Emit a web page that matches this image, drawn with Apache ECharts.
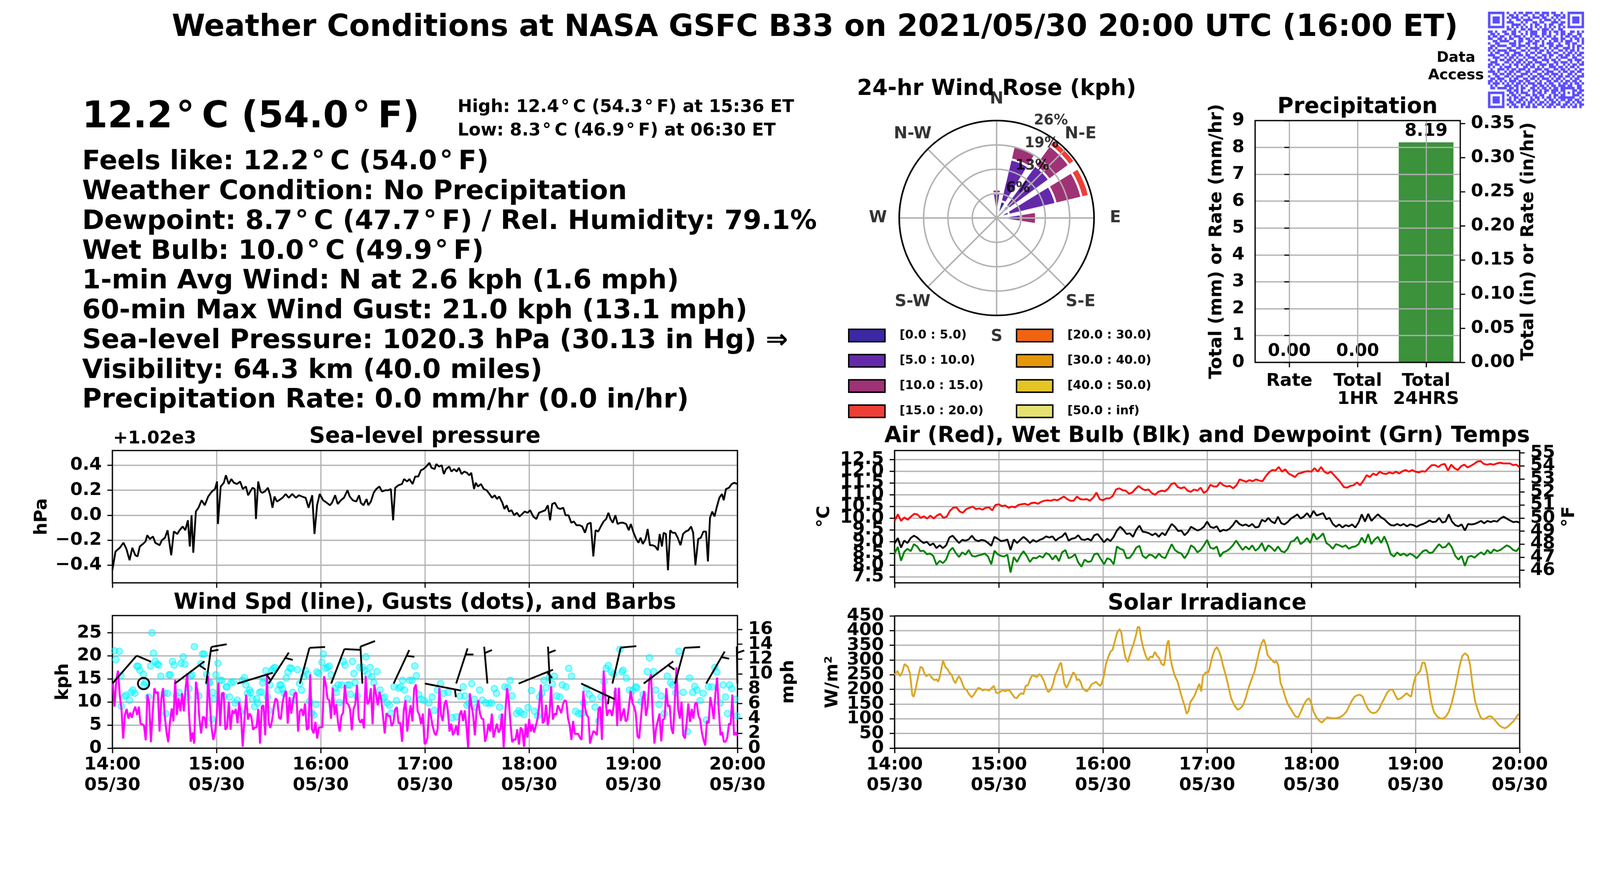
<!DOCTYPE html>
<html>
<head>
<meta charset="utf-8">
<script src="https://cdn.jsdelivr.net/npm/echarts@6/dist/echarts.min.js"></script>
<style>
html, body { margin: 0; padding: 0; background: #fff; overflow: hidden; }
#frame { position: relative; overflow: hidden; }
#main { width: 4500px; height: 2250px; transform-origin: 0 0; position: absolute; left: 0; top: 0; }
</style>
</head>
<body>
<div id="frame"><div id="main"></div></div>
<script>
var FONT = 'DejaVu Sans';
var GRIDC = '#b0b0b0';
var DEG = '\u200A°\u2009';

// ---------- text block ----------
var mainTitle = 'Weather Conditions at NASA GSFC B33 on 2021/05/30 20:00 UTC (16:00 ET)';
var currentTemp = '12.2' + DEG + 'C (54.0' + DEG + 'F)';
var highLow = ['High: 12.4' + DEG + 'C (54.3' + DEG + 'F) at 15:36 ET',
               'Low: 8.3' + DEG + 'C (46.9' + DEG + 'F) at 06:30 ET'];
var infoLines = [
    'Feels like: 12.2' + DEG + 'C (54.0' + DEG + 'F)',
    'Weather Condition: No Precipitation',
    'Dewpoint: 8.7' + DEG + 'C (47.7' + DEG + 'F) / Rel. Humidity: 79.1%',
    'Wet Bulb: 10.0' + DEG + 'C (49.9' + DEG + 'F)',
    '1-min Avg Wind: N at 2.6 kph (1.6 mph)',
    '60-min Max Wind Gust: 21.0 kph (13.1 mph)',
    'Sea-level Pressure: 1020.3 hPa (30.13 in Hg) \u21D2',
    'Visibility: 64.3 km (40.0 miles)',
    'Precipitation Rate: 0.0 mm/hr (0.0 in/hr)'
];

// ---------- time axis (minutes after 14:00 UTC) ----------
var timeTicks = [0, 60, 120, 180, 240, 300, 360];
var timeLabels = ['14:00\n05/30', '15:00\n05/30', '16:00\n05/30', '17:00\n05/30', '18:00\n05/30', '19:00\n05/30', '20:00\n05/30'];

// ---------- sea-level pressure [minute, hPa] ----------
var pressure = [
[0,1019.56],[1.8,1019.71],[4.3,1019.74],[6.4,1019.78],[8.1,1019.73],[9.9,1019.64],[11.5,1019.74],[13.2,1019.68],[14.5,1019.67],[15.8,1019.75],[17.6,1019.77],[19.1,1019.79],[20.1,1019.84],[21.6,1019.81],[23.4,1019.83],[24.7,1019.78],[27.2,1019.76],[28.5,1019.80],[30.3,1019.82],[31.8,1019.88],[33.9,1019.68],[35.4,1019.87],[37.4,1019.85],[38.7,1019.88],[40.5,1019.91],[42.0,1019.88],[43.5,1019.96],[44.6,1019.75],[45.6,1020.00],[46.6,1019.70],[48.1,1020.03],[49.6,1020.06],[51.4,1020.12],[53.2,1020.08],[55.2,1020.15],[57.3,1020.19],[59.1,1020.21],[60.3,1020.27],[60.8,1019.93],[62.4,1020.23],[64.2,1020.26],[65.4,1020.32],[67.0,1020.25],[68.5,1020.29],[70.0,1020.26],[71.8,1020.25],[73.6,1020.27],[75.1,1020.21],[76.9,1020.23],[78.2,1020.16],[79.4,1020.19],[80.7,1020.22],[82.0,1020.21],[82.7,1019.97],[84.0,1020.27],[85.3,1020.19],[86.3,1020.18],[87.8,1020.19],[89.6,1020.22],[90.9,1020.16],[92.2,1020.06],[93.4,1020.15],[94.7,1020.11],[96.0,1020.12],[98.0,1020.14],[99.8,1020.17],[101.6,1020.14],[103.6,1020.17],[105.7,1020.14],[107.4,1020.16],[109.2,1020.15],[111.3,1020.14],[113.0,1020.06],[115.1,1020.16],[116.4,1019.85],[117.9,1020.08],[119.4,1020.17],[121.4,1020.12],[123.5,1020.10],[125.3,1020.08],[126.5,1020.10],[128.3,1020.16],[129.8,1020.09],[131.6,1020.12],[133.4,1020.14],[135.4,1020.20],[136.7,1020.15],[138.5,1020.12],[140.5,1020.11],[142.1,1020.16],[143.1,1020.10],[144.6,1020.08],[146.4,1020.13],[147.4,1020.08],[148.9,1020.11],[150.5,1020.18],[152.0,1020.21],[153.8,1020.23],[155.3,1020.19],[157.1,1020.20],[158.9,1020.20],[160.4,1020.21],[161.7,1019.96],[162.9,1020.22],[164.7,1020.24],[166.8,1020.25],[168.0,1020.29],[169.8,1020.27],[171.1,1020.29],[172.9,1020.25],[174.4,1020.31],[176.2,1020.31],[177.7,1020.36],[179.2,1020.37],[180.8,1020.39],[182.6,1020.42],[183.8,1020.38],[185.6,1020.37],[186.6,1020.41],[188.1,1020.39],[189.7,1020.40],[190.9,1020.33],[192.2,1020.37],[194.0,1020.39],[195.3,1020.35],[196.8,1020.37],[198.3,1020.35],[199.6,1020.38],[201.1,1020.33],[202.7,1020.35],[204.2,1020.34],[205.5,1020.32],[206.7,1020.34],[208.3,1020.21],[209.3,1020.26],[210.6,1020.23],[212.3,1020.25],[213.9,1020.21],[215.6,1020.20],[217.2,1020.17],[218.7,1020.14],[220.2,1020.16],[221.5,1020.13],[222.8,1020.15],[224.6,1020.10],[225.8,1020.05],[227.1,1020.08],[228.4,1020.03],[229.9,1020.04],[231.4,1020.00],[233.0,1020.02],[234.5,1019.99],[236.0,1020.01],[237.5,1020.03],[239.1,1020.02],[240.6,1020.04],[242.4,1019.99],[244.2,1019.97],[245.7,1020.02],[247.5,1020.03],[249.3,1020.04],[250.8,1020.08],[252.1,1019.96],[253.3,1020.09],[254.9,1020.10],[256.4,1020.06],[257.9,1020.05],[259.7,1020.06],[261.0,1020.00],[262.7,1020.00],[264.3,1019.94],[265.8,1019.95],[267.3,1019.92],[269.1,1019.92],[270.6,1019.91],[272.2,1019.86],[273.7,1019.93],[275.5,1019.94],[277.0,1019.67],[278.3,1019.88],[279.8,1019.87],[281.3,1019.91],[282.9,1019.95],[284.4,1019.97],[285.7,1020.02],[286.9,1019.97],[288.2,1019.94],[289.7,1020.00],[291.0,1019.93],[292.5,1019.94],[294.1,1019.94],[295.9,1019.93],[297.4,1019.88],[298.6,1019.93],[300.2,1019.86],[301.7,1019.81],[303.0,1019.78],[304.2,1019.82],[305.5,1019.77],[307.1,1019.81],[308.3,1019.89],[309.6,1019.76],[311.1,1019.76],[312.7,1019.75],[314.2,1019.72],[315.2,1019.85],[316.5,1019.75],[317.5,1019.86],[318.8,1019.85],[320.0,1019.56],[321.3,1019.88],[322.6,1019.86],[324.1,1019.86],[325.6,1019.82],[327.2,1019.76],[328.7,1019.85],[330.2,1019.87],[331.8,1019.88],[333.3,1019.91],[334.5,1019.86],[335.8,1019.60],[337.4,1019.81],[338.9,1019.82],[340.4,1019.87],[341.9,1019.87],[343.0,1019.63],[344.2,1019.98],[345.5,1020.03],[346.8,1019.99],[348.0,1020.06],[349.6,1020.14],[351.1,1020.17],[352.1,1020.12],[353.4,1020.21],[355.1,1020.22],[356.7,1020.25],[358.2,1020.26],[360,1020.25]
];
var pressureTicks = [1019.6, 1019.8, 1020.0, 1020.2, 1020.4];

// ---------- temperatures, deg C, evenly spaced from 14:00 to 20:00 ----------
var airTemp = [9.88,10.16,9.88,10.03,9.93,10.06,10.18,10.16,10.01,10.08,9.98,10.11,9.98,10.11,10.18,10.01,10.06,10.31,10.44,10.46,10.28,10.23,10.38,10.44,10.49,10.38,10.41,10.36,10.44,10.46,10.33,10.56,10.59,10.51,10.54,10.44,10.49,10.46,10.56,10.59,10.61,10.56,10.64,10.66,10.61,10.69,10.74,10.76,10.74,10.79,10.76,10.84,10.92,10.81,10.74,10.74,10.92,10.81,10.79,10.81,10.74,10.87,11.09,10.81,10.76,10.84,10.84,10.94,11.22,11.27,11.19,11.17,11.04,11.09,11.25,11.37,11.25,11.19,11.22,11.07,10.99,11.12,11.17,11.14,11.25,11.45,11.50,11.32,11.27,11.32,11.17,11.12,11.22,11.17,11.30,11.07,11.17,11.42,11.35,11.35,11.52,11.40,11.35,11.37,11.27,11.40,11.65,11.60,11.55,11.62,11.57,11.65,11.60,11.57,11.78,11.95,12.05,12.03,12.18,11.98,12.08,11.90,11.83,11.75,11.90,11.93,11.98,12.00,11.98,12.13,11.98,12.18,11.98,11.90,11.98,11.83,11.68,11.52,11.32,11.30,11.37,11.40,11.52,11.40,11.60,11.83,11.75,11.90,11.83,11.98,11.90,11.88,11.95,11.90,11.98,11.90,12.00,12.05,11.98,12.05,11.98,11.95,12.00,11.98,12.13,12.26,12.26,12.18,12.28,12.31,12.03,12.28,12.13,12.05,12.21,12.28,12.16,12.23,12.31,12.41,12.43,12.31,12.28,12.31,12.28,12.33,12.36,12.33,12.33,12.33,12.26,12.28,12.16];
var wetBulb = [8.92,9.15,8.74,9.04,8.94,9.15,9.25,9.17,9.04,8.94,8.99,8.84,8.92,8.72,8.84,8.72,8.84,9.17,9.25,9.09,8.94,9.07,9.04,9.09,9.25,9.07,9.02,9.07,9.04,8.94,8.82,9.20,9.12,9.02,9.04,9.09,8.64,9.09,8.94,9.07,9.20,9.09,8.94,9.07,8.99,9.07,9.12,9.22,9.17,9.22,9.04,9.15,9.22,9.37,9.04,9.12,9.15,9.27,9.09,9.07,9.12,9.04,9.27,9.32,9.15,8.97,9.12,9.02,9.20,9.47,9.63,9.50,9.32,9.35,9.20,9.50,9.68,9.42,9.40,9.35,9.27,9.35,9.20,9.37,9.27,9.52,9.75,9.63,9.45,9.47,9.27,9.40,9.63,9.55,9.47,9.52,9.63,9.85,9.63,9.58,9.65,9.42,9.50,9.47,9.55,9.70,9.90,9.75,9.68,9.73,9.65,9.75,9.60,9.63,9.93,9.85,10.01,9.85,9.78,10.06,9.78,9.73,9.83,9.98,10.06,10.16,9.98,10.06,10.21,10.03,10.31,10.11,10.16,10.21,9.95,10.01,9.75,9.63,9.73,9.60,9.70,9.65,9.73,9.60,9.81,10.16,9.85,10.18,9.88,10.03,10.16,10.03,9.95,9.81,9.70,9.68,9.75,9.68,9.75,9.65,9.73,9.70,9.63,9.70,9.75,9.81,9.90,9.83,9.85,10.01,9.81,9.85,10.16,9.85,9.70,9.65,9.73,9.47,9.75,9.73,9.75,9.81,9.88,9.78,9.88,9.83,9.88,9.85,9.98,10.06,9.98,9.90,9.83,9.85,9.81];
var dewPoint = [8.49,8.77,8.18,8.56,8.69,8.59,8.89,8.79,8.59,8.61,8.46,8.49,8.39,8.01,8.18,8.08,8.23,8.59,8.74,8.51,8.34,8.54,8.44,8.64,8.39,8.36,8.41,8.44,8.49,8.36,8.03,8.61,8.46,8.39,8.36,8.44,7.68,8.34,8.13,8.39,8.59,8.39,8.13,8.31,8.29,8.39,8.31,8.51,8.44,8.23,8.41,8.16,8.54,8.64,8.29,8.34,8.46,8.11,7.93,8.23,8.13,8.16,8.46,8.49,8.26,8.03,8.29,8.23,8.03,8.79,8.69,8.64,8.29,8.31,8.49,8.74,8.82,8.39,8.29,8.44,8.41,8.29,8.49,8.34,8.29,8.59,8.89,8.64,8.54,8.49,8.29,8.49,8.84,8.74,8.54,8.64,8.84,9.07,8.74,8.69,8.79,8.36,8.54,8.59,8.69,8.84,9.04,8.84,8.64,8.79,8.66,8.84,8.61,8.72,8.94,8.59,8.84,8.74,8.59,8.79,8.59,8.54,8.69,8.99,9.04,9.20,8.89,8.99,9.15,8.94,9.35,9.09,9.20,9.35,8.94,8.84,8.69,8.89,8.84,8.77,8.84,8.69,8.77,8.79,8.89,9.17,8.94,9.32,8.89,9.09,9.20,8.94,9.22,8.89,8.46,8.36,8.54,8.41,8.49,8.39,8.49,8.41,8.29,8.44,8.59,8.64,8.51,8.54,8.72,8.89,8.74,8.77,8.94,8.74,8.39,8.23,8.39,7.96,8.34,8.39,8.31,8.44,8.54,8.44,8.64,8.49,8.66,8.59,8.64,8.74,8.84,8.77,8.64,8.59,8.77];
var tempTicksC = [7.5, 8.0, 8.5, 9.0, 9.5, 10.0, 10.5, 11.0, 11.5, 12.0, 12.5];
var tempTicksF = [46, 47, 48, 49, 50, 51, 52, 53, 54, 55];

// ---------- wind speed, kph (first half 14:00-17:00, second half 17:00-20:00, evenly spaced) ----------
var windSpdA = [14.2,9.0,14.7,16.8,11.6,8.5,2.1,7.2,8.5,6.4,7.7,6.6,8.0,9.0,7.2,9.0,5.3,5.2,4.9,1.7,11.6,9.8,1.3,7.5,13.0,11.9,12.2,3.6,10.6,13.0,7.0,3.5,1.3,5.7,8.6,5.8,14.8,7.2,10.8,8.0,11.9,8.0,12.9,16.2,7.5,1.4,3.4,1.0,14.4,12.1,6.4,3.2,6.8,6.6,4.3,15.6,9.8,4.5,1.8,3.4,7.2,14.2,4.8,11.9,12.0,4.0,4.6,10.1,4.0,8.2,7.5,8.5,5.4,10.1,7.2,0.3,6.4,11.6,6.2,7.5,6.8,4.0,4.5,4.5,8.5,1.0,9.0,9.3,2.8,15.7,5.5,4.4,6.1,9.0,10.8,10.3,6.6,6.3,9.8,11.6,12.4,5.3,11.1,7.5,10.1,11.9,12.0,3.6,8.0,8.5,7.0,9.7,4.0,4.3,16.0,4.1,3.2,5.7,2.1,4.5,4.5,4.6,15.6,13.7,10.7,10.4,6.4,13.1,7.2,9.5,5.7,3.6,7.0,7.7,13.7,9.8,9.5,8.4,3.9,8.5,9.5,13.7,6.4,5.5,6.3,4.3,15.6,9.5,10.1,13.0,5.2,13.8,11.6,9.3,12.2,10.4,7.0,3.2,7.6,7.0,7.0,4.8,5.5,8.4,8.9,5.4,5.5,1.4,8.2,10.4,3.6,7.0,9.3,5.8,12.9,13.8,8.0,7.2,5.2,7.5,1.0];
var windSpdB = [1.0,2.3,8.6,7.0,4.9,3.4,2.8,4.1,13.0,7.2,5.9,9.5,10.4,8.2,3.6,5.3,2.8,3.6,4.9,2.8,7.2,8.2,5.9,8.2,4.9,0.1,11.9,9.3,7.0,2.8,8.2,10.4,7.5,6.4,6.3,1.4,2.8,5.3,3.6,7.5,2.3,3.9,5.3,3.4,4.1,7.5,0.1,8.0,13.0,10.3,5.4,1.3,1.9,1.8,4.1,0.8,4.5,3.9,0.3,5.3,2.3,6.3,3.6,5.2,3.4,4.9,6.4,9.3,13.8,5.4,5.9,9.4,4.9,7.2,13.4,6.2,7.5,7.2,9.3,8.5,7.6,9.5,10.4,10.1,6.4,4.9,1.8,5.9,3.1,3.1,3.1,2.3,1.8,12.4,8.8,7.2,6.7,1.0,2.6,3.7,3.4,2.8,8.5,9.0,1.8,16.8,11.3,7.0,8.2,8.2,7.0,9.3,13.1,4.8,13.1,5.9,7.2,8.6,5.8,6.2,9.3,12.4,9.8,9.0,7.5,2.6,2.1,6.4,10.6,12.4,7.0,9.0,14.8,16.0,7.0,1.0,4.4,5.9,7.5,1.5,6.2,6.4,13.0,9.0,9.3,4.3,3.1,9.8,17.5,8.5,6.4,10.1,2.8,2.1,5.4,9.7,5.7,8.5,6.4,9.7,9.8,7.0,6.2,3.4,1.8,0.6,5.9,5.4,11.1,9.0,6.3,11.9,15.3,8.2,2.8,3.5,1.4,1.4,2.3,5.3,5.2,11.6,2.8,3.4,2.6];
// gusts [minute, kph]
var gusts = [
[1.2,21.1],[2.0,19.2],[4.0,21.0],[4.9,15.7],[5.2,9.1],[7.1,11.2],[7.9,11.5],[9.9,10.4],[10.8,12.1],[11.8,12.6],[12.9,11.9],[14.1,17.8],[14.9,17.7],[15.8,16.9],[17.9,16.0],[18.1,13.7],[19.0,14.2],[20.8,11.1],[22.0,17.8],[22.8,25.0],[23.7,20.6],[24.7,18.8],[25.9,18.2],[26.7,18.0],[27.9,15.6],[29.9,11.9],[30.8,7.5],[31.7,11.9],[32.6,15.9],[33.4,15.9],[34.6,18.8],[35.5,18.0],[36.9,11.3],[38.4,12.1],[39.6,18.4],[40.8,19.8],[41.7,18.2],[43.1,11.1],[44.1,12.9],[45.1,15.6],[45.8,15.9],[47.2,22.0],[49.8,11.3],[51.0,18.3],[51.9,20.4],[52.9,20.4],[54.3,16.0],[55.5,14.2],[56.1,14.2],[57.2,6.3],[57.8,12.1],[58.4,10.7],[59.6,15.9],[60.8,18.4],[62.0,14.7],[63.1,14.7],[64.3,11.2],[65.5,13.3],[66.0,13.3],[67.5,11.1],[68.4,14.2],[69.6,14.4],[70.7,9.8],[71.9,10.4],[73.7,7.9],[74.9,14.7],[76.0,15.3],[76.9,13.7],[77.8,11.9],[79.0,12.6],[79.6,12.1],[80.7,10.7],[81.9,9.0],[83.1,10.7],[83.7,9.8],[84.8,12.1],[85.8,12.2],[86.6,14.2],[87.2,15.2],[88.4,16.8],[89.3,11.1],[90.1,8.2],[90.7,13.7],[91.9,16.8],[92.8,17.3],[93.7,17.5],[95.4,12.6],[96.4,13.7],[97.2,13.7],[98.0,12.8],[98.9,11.9],[100.1,15.2],[101.1,16.5],[102.2,17.4],[103.1,17.3],[103.9,12.1],[104.8,10.4],[106.6,17.0],[107.8,14.0],[108.9,12.6],[110.1,15.5],[111.3,16.8],[112.5,16.0],[113.6,10.2],[114.8,7.6],[116.0,7.2],[117.2,9.5],[117.8,16.5],[118.9,16.2],[120.7,18.6],[121.5,20.4],[122.7,17.3],[123.9,17.5],[124.8,17.8],[126.0,15.9],[128.3,13.0],[128.9,12.1],[130.1,13.7],[130.7,9.9],[131.9,13.7],[133.0,18.8],[134.0,18.0],[135.4,13.7],[136.6,13.7],[137.1,11.7],[138.3,18.8],[139.1,16.2],[139.8,14.2],[141.0,11.3],[142.4,17.5],[144.2,17.5],[145.0,16.8],[146.0,19.8],[147.1,16.0],[148.5,17.5],[149.5,15.5],[150.6,14.2],[152.4,16.6],[154.2,12.6],[155.9,10.8],[156.8,11.1],[158.3,9.8],[159.5,9.3],[160.6,7.6],[162.2,13.3],[163.6,10.3],[165.0,13.0],[166.0,13.3],[167.1,14.7],[168.3,12.6],[170.0,10.7],[171.2,14.7],[172.7,14.7],[174.2,17.8],[175.1,15.7],[176.5,11.6],[177.7,10.6],[179.4,10.4],
[182.3,9.8],[184.2,11.1],[185.4,8.2],[187.2,12.6],[189.0,14.0],[190.8,11.9],[193.3,12.1],[195.7,6.6],[198.1,6.8],[200.2,11.3],[202.1,13.3],[203.0,11.3],[204.2,9.3],[205.4,9.8],[207.0,14.0],[208.5,10.6],[209.7,8.8],[211.5,12.6],[213.1,10.4],[215.1,9.8],[217.0,9.7],[218.4,9.8],[220.0,12.9],[221.2,11.9],[223.0,8.9],[224.3,6.7],[226.1,13.3],[227.9,13.1],[229.1,14.7],[230.3,11.3],[232.8,7.5],[234.0,8.1],[235.2,7.7],[237.0,7.3],[239.4,8.8],[241.3,12.5],[243.1,8.0],[244.9,7.0],[246.1,11.1],[247.3,11.9],[248.6,14.7],[249.8,13.1],[251.6,15.3],[253.4,13.9],[254.6,15.6],[255.9,11.3],[257.7,11.1],[259.1,13.7],[261.3,13.3],[262.8,17.3],[264.4,15.6],[266.8,8.0],[268.6,7.5],[270.4,7.5],[271.4,9.8],[273.1,12.9],[274.7,11.6],[276.5,10.8],[278.0,8.9],[280.2,5.9],[281.4,11.1],[283.2,14.4],[284.4,17.3],[285.6,17.9],[287.4,16.5],[288.7,16.0],[290.5,12.1],[292.3,21.4],[293.5,16.5],[294.1,16.9],[296.0,15.2],[297.8,12.6],[299.6,12.5],[301.4,13.3],[302.0,13.1],[304.5,10.1],[305.7,11.6],[308.1,16.6],[309.3,19.6],[311.7,16.6],[312.9,12.6],[314.8,9.5],[316.0,11.3],[317.8,7.5],[319.6,15.6],[321.5,14.2],[322.7,13.7],[324.5,12.0],[326.3,21.0],[328.8,12.1],[331.2,3.6],[332.4,15.2],[334.2,12.1],[335.4,13.4],[336.7,12.6],[338.5,10.3],[340.3,11.9],[342.1,6.1],[343.3,13.3],[345.2,13.3],[347.0,17.5],[348.2,16.5],[350.0,9.8],[351.8,13.7],[353.1,11.1],[354.3,7.5],[355.5,13.7],[356.7,12.9],[358.5,10.6],[359.7,7.0]
];
var kphTicks = [0, 5, 10, 15, 20, 25];
var mphTicks = [0, 2, 4, 6, 8, 10, 12, 14, 16];
// wind barbs: time (min), direction wind is from (deg), speed (kph)
var barbTimes  = [0, 18, 36, 54, 72, 90, 108, 126, 144, 162, 180, 198, 216, 234, 252, 270, 288, 306, 324, 342, 360];
var barbDirs   = [41, 0, 53, 8, 73, 33, 15, 21, 357, 25, 101, 18, 355, 68, 357, 115, 13, 53, 15, 30, 359];
var barbSpeeds = [10, 0, 5, 15, 5, 5, 10, 10, 10, 5, 5, 5, 5, 5, 5, 5, 10, 5, 10, 5, 5];

// ---------- solar irradiance [minute, W/m2] ----------
var solar = [
[0,249],[1.6,263],[3.1,245],[4.4,258],[5.7,286],[7.6,277],[8.9,254],[10.2,180],[11.0,175],[12.0,198],[13.6,245],[14.9,277],[16.2,272],[17.2,254],[18.3,245],[19.9,252],[21.4,240],[23.0,231],[24.0,235],[25.1,226],[26.1,245],[27.2,277],[27.9,298],[29.3,275],[30.6,268],[31.9,254],[32.9,249],[34.0,231],[35.0,221],[36.0,235],[37.1,245],[38.1,235],[39.2,217],[40.2,203],[41.5,198],[42.8,184],[44.4,173],[45.4,180],[46.8,193],[48.1,205],[49.4,203],[50.7,196],[52.0,200],[53.3,198],[54.6,196],[55.9,205],[57.2,212],[58.5,189],[59.8,187],[61.1,193],[62.4,198],[63.7,193],[65.0,198],[66.3,196],[67.7,184],[69.0,173],[70.3,170],[71.6,180],[72.9,187],[74.2,184],[75.5,212],[76.8,214],[78.1,235],[79.4,249],[80.7,245],[82.0,242],[83.3,252],[84.6,245],[86.2,226],[87.2,207],[88.5,191],[89.9,198],[91.2,217],[92.5,249],[93.8,265],[95.1,286],[95.9,291],[96.9,254],[97.7,221],[99.0,205],[100.3,221],[101.6,240],[102.9,258],[104.2,249],[105.0,231],[106.0,235],[107.1,226],[108.1,207],[109.4,198],[110.7,193],[112.1,203],[113.4,217],[114.7,221],[116.0,226],[117.3,217],[118.6,212],[119.6,226],[120.7,249],[121.7,286],[123.3,314],[124.3,328],[125.6,335],[126.9,365],[128.2,393],[129.6,405],[130.6,393],[131.6,351],[132.9,310],[134.3,293],[135.3,314],[136.3,333],[137.7,356],[139.0,384],[140.0,412],[141.0,412],[142.1,370],[143.4,337],[144.7,314],[146.0,298],[147.3,312],[148.6,309],[149.9,328],[151.2,314],[152.5,305],[153.8,286],[155.2,282],[155.9,309],[157.0,356],[157.8,367],[158.8,309],[159.9,277],[161.2,249],[163.0,226],[164.3,198],[165.6,170],[166.9,147],[168.2,117],[169.3,126],[170.3,156],[171.6,168],[172.9,180],[174.0,198],[175.5,219],[176.6,193],[177.6,245],[179.2,258],[180.8,258],[181.8,282],[183.1,314],[184.4,335],[185.7,344],[187.0,328],[188.1,309],[189.1,282],[190.7,249],[192.2,212],[193.8,170],[195.6,147],[197.5,131],[199.0,135],[200.6,145],[202.2,170],[203.5,198],[204.8,221],[206.3,245],[207.4,263],[208.7,296],[210.0,330],[211.3,356],[212.6,370],[213.7,351],[214.7,319],[215.8,309],[217.3,300],[218.6,291],[219.9,296],[221.0,282],[222.3,221],[223.6,203],[225.2,170],[226.7,147],[228.3,133],[229.6,119],[230.9,108],[232.5,105],[234.0,124],[235.6,147],[237.2,163],[238.7,170],[240.0,152],[241.3,124],[242.9,105],[244.5,94],[246.0,87],[247.6,96],[249.2,105],[250.8,103],[252.3,102],[254.4,102],[256.5,105],[258.3,112],[260.2,124],[261.7,142],[263.3,161],[264.9,175],[266.4,180],[268.0,182],[269.6,175],[271.1,152],[272.7,133],[274.3,122],[275.8,119],[277.4,122],[279.0,133],[280.5,152],[282.1,170],[283.7,189],[285.2,198],[286.8,200],[288.4,180],[289.7,166],[291.0,168],[292.3,173],[293.6,180],[294.9,187],[296.2,180],[297.5,175],[298.8,217],[300.1,245],[301.4,254],[302.7,263],[304.0,291],[305.3,291],[306.7,254],[308.0,198],[309.3,152],[310.6,124],[312.4,108],[314.0,102],[315.8,100],[317.6,108],[319.2,124],[320.8,152],[322.3,189],[323.9,235],[325.5,282],[327.0,314],[328.6,323],[330.2,314],[331.5,282],[332.8,217],[334.3,161],[335.9,129],[337.5,105],[339.0,98],[340.6,102],[342.2,108],[343.7,108],[345.3,98],[346.9,87],[348.4,77],[350.0,71],[351.6,68],[353.1,73],[354.7,82],[356.3,91],[357.8,103],[359.4,117]
];
var solarTicks = [0, 50, 100, 150, 200, 250, 300, 350, 400, 450];

// ---------- precipitation ----------
var precipCats = ['Rate', 'Total\n1HR', 'Total\n24HRS'];
var precipVals = [0.00, 0.00, 8.19];
var precipTicksMm = [0, 1, 2, 3, 4, 5, 6, 7, 8, 9];
var precipTicksIn = [0, 0.05, 0.10, 0.15, 0.20, 0.25, 0.30, 0.35];

// ---------- wind rose: % of time per direction and speed bin ----------
var roseDirs = ['N', 'NNE', 'NE', 'ENE', 'E', 'ESE', 'SE', 'SSE', 'S', 'SSW', 'SW', 'WSW', 'W', 'WNW', 'NW', 'NNW'];
var roseBins = ['[0.0 : 5.0)', '[5.0 : 10.0)', '[10.0 : 15.0)', '[15.0 : 20.0)',
                '[20.0 : 30.0)', '[30.0 : 40.0)', '[40.0 : 50.0)', '[50.0 : inf)'];
var roseColors = ['#3b28a5', '#6429aa', '#9e3275', '#ee3f36', '#f06410', '#e5970a', '#e5c426', '#e5e171'];
var roseFreq = [
    [1.0, 4.6, 4.1, 3.4, 1.0, 0.8, 0, 0, 0, 0, 0, 0, 0, 0, 0, 0.7],
    [5.5, 11.3, 13.0, 12.6, 5.4, 1.3, 0, 0, 0, 0, 0, 0, 0, 0, 0, 1.2],
    [1.0, 3.8, 6.5, 7.0, 4.0, 0, 0, 0, 0, 0, 0, 0, 0, 0, 0, 0],
    [0, 0.3, 1.8, 2.0, 0.3, 0, 0, 0, 0, 0, 0, 0, 0, 0, 0, 0],
    [0, 0, 0, 0, 0, 0, 0, 0, 0, 0, 0, 0, 0, 0, 0, 0],
    [0, 0, 0, 0, 0, 0, 0, 0, 0, 0, 0, 0, 0, 0, 0, 0],
    [0, 0, 0, 0, 0, 0, 0, 0, 0, 0, 0, 0, 0, 0, 0, 0],
    [0, 0, 0, 0, 0, 0, 0, 0, 0, 0, 0, 0, 0, 0, 0, 0]
];
var roseRings = [6.4, 12.8, 19.2, 25.6];
var roseRingLabels = ['6%', '13%', '19%', '26%'];
var compassAngles = [0, 45, 90, 135, 180, 225, 270, 315];
var compassNames = ['N', 'N-E', 'E', 'S-E', 'S', 'S-W', 'W', 'N-W'];

// ---------- data access QR code ----------
var qrRows = [
'11111110100101101110110111011001001111111',
'10000010011010011001001101001110101000001',
'10111010101110100101110110010101101011101',
'10111010010011011110001011101010001011101',
'10111010111000101001101100011101101011101',
'10000010001111010010110010110011001000001',
'11111110101010101010101010101010101111111',
'00000000110100110110010111010011000000000',
'11010011001101001011100110101101100110101',
'01101001101100101011100110100101101100110',
'10110110010111010010110101101001011011010',
'11001101011001101101001010011101100101101',
'00110111100101100110110100101101011100101',
'10011000011101001101100101110010011011001',
'01101111001101110100101100110111001010110',
'11010000110011001011110010101100111010101',
'10101111011100110100101101010011010110100',
'01011001100111001011011001101100101101011',
'11100110101101101100100110110011011010110',
'00111001011010010111011010100101110011001',
'10010110110101101001100111011010001101110',
'01110001101011010110111001001101110100101',
'11011010010110101101001110110100101011011',
'10100101110010011011010100111011010110100',
'01001110101101110100111011001101101001011',
'11101001011011001101100101110010110110110',
'00110110110100111010011011011101001101001',
'10011001101011100101101100101011011010111',
'01101110010110011011010111010110100101100',
'11010101011101101100101001101101011011010',
'10111010101011010111011010110010110101101',
'01010001110110101001101101011011101100110',
'01101111011010110011010110101101111110110',
'00000000110110100101101011011101100011011',
'11111110011010111001011010011010101010110',
'10000010101101001101101100101101100011101',
'10111010010110110010110101101011111110010',
'10111010110101101011010010110101101101101',
'10111010011011010110101101011010011010110',
'10000010101100110101011010110110110101011',
'11111110010110101101100101101001101011010'
];

// ---------- layout constants ----------
var BARB_LEVEL = 14;     // kph height at which barbs are planted
var BARB_LEN = 104, BARB_FULL = 44, BARB_STEP = 12, BARB_ANGLE = 72;
var COMPASS_R = 31.2;    // radius units for compass labels
var RING_LABEL_ANGLE = 22.5;

// fit the 4500x2250 design into whatever viewport the page gets
var SCALE = Math.min(window.innerWidth / 4500, window.innerHeight / 2250);
var frame = document.getElementById('frame');
frame.style.width = (4500 * SCALE) + 'px';
frame.style.height = (2250 * SCALE) + 'px';
document.getElementById('main').style.transform = 'scale(' + SCALE + ')';

function lab(size) {
    return {color: '#000', fontFamily: FONT, fontWeight: 'bold', fontSize: size};
}
function merge(a, b) { for (var k in b) { a[k] = b[k]; } return a; }
function everyOther(arr, start) { return arr.filter(function (v, i) { return i % 2 === start; }); }

function timeX(gi, showLab) {
    return {
        type: 'value', gridIndex: gi, min: 0, max: 360, interval: 60,
        axisLine: {show: false},
        axisTick: {show: true, length: 14, lineStyle: {color: '#000', width: 3.3}},
        axisLabel: merge(lab(50), {
            show: showLab, margin: 18, lineHeight: 58, showMinLabel: true, showMaxLabel: true,
            formatter: function (v) { var i = timeTicks.indexOf(v); return i < 0 ? '' : timeLabels[i]; }
        }),
        splitLine: {show: true, lineStyle: {color: GRIDC, width: 3.3}}
    };
}

// opt.labels picks which ticks get a label; opt.ticks false gives a label-only twin axis
function valY(gi, min, max, ticks, fmt, opt) {
    var step = ticks[1] - ticks[0];
    return {
        type: 'value', gridIndex: gi, min: min, max: max,
        minInterval: step, maxInterval: step,
        position: opt.position || 'left',
        axisLine: {show: false},
        axisTick: {show: opt.ticks !== false, length: 14, customValues: ticks, lineStyle: {color: '#000', width: 3.3}},
        axisLabel: merge(lab(50), {margin: 30, customValues: opt.labels || ticks, formatter: fmt,
                                   showMinLabel: true, showMaxLabel: true, hideOverlap: false}),
        splitLine: {show: opt.split !== false, lineStyle: {color: GRIDC, width: 3.3}},
        name: opt.name || '', nameLocation: 'middle', nameRotate: 90, nameGap: opt.gap || 0,
        nameTextStyle: lab(50),
        z: opt.z || 0
    };
}

function gridBox(left, top, width, height, z) {
    return {left: left, top: top, width: width, height: height, show: true,
            borderColor: '#000', borderWidth: 3.5, backgroundColor: 'rgba(0,0,0,0)', z: z || 1};
}

function evenly(vals, t0, t1) {
    var step = (t1 - t0) / (vals.length - 1);
    return vals.map(function (v, i) { return [t0 + i * step, v]; });
}

function minus(s) { return s.replace('-', '\u2212'); }
function plain(v) { return String(v); }

function renderBarb(params, api) {
    var p = api.coord([api.value(0), api.value(1)]);
    var dir = api.value(2) * Math.PI / 180;
    var spd = api.value(3);
    var st = {stroke: '#000', lineWidth: 5, fill: 'none'};
    if (spd < 2.5) {
        return {type: 'circle', shape: {cx: p[0], cy: p[1], r: 16}, style: st};
    }
    var ux = Math.sin(dir), uy = -Math.cos(dir);
    var tip = [p[0] + ux * BARB_LEN, p[1] + uy * BARB_LEN];
    var bd = dir + BARB_ANGLE * Math.PI / 180;
    var bx = Math.sin(bd), by = -Math.cos(bd);
    var kids = [{type: 'line', shape: {x1: p[0], y1: p[1], x2: tip[0], y2: tip[1]}, style: st}];
    var full = Math.floor(spd / 10);
    var half = (spd - full * 10) >= 5;
    var k = 0;
    for (var i = 0; i < full; i++, k++) {
        var sx = tip[0] - ux * k * BARB_STEP, sy = tip[1] - uy * k * BARB_STEP;
        kids.push({type: 'line', shape: {x1: sx, y1: sy, x2: sx + bx * BARB_FULL, y2: sy + by * BARB_FULL}, style: st});
    }
    if (half) {
        if (full === 0) { k = 1.5; }
        var hx = tip[0] - ux * k * BARB_STEP, hy = tip[1] - uy * k * BARB_STEP;
        kids.push({type: 'line', shape: {x1: hx, y1: hy, x2: hx + bx * BARB_FULL / 2, y2: hy + by * BARB_FULL / 2}, style: st});
    }
    return {type: 'group', children: kids};
}

var myChart = echarts.init(document.getElementById('main'), null, {width: 4500, height: 2250});

// text graphics
var graphics = [];
function addText(x, y, text, size, align) {
    graphics.push({type: 'text', x: x, y: y, silent: true,
        style: {text: text, font: 'bold ' + size + 'px "' + FONT + '"', fill: '#000',
                align: align || 'center', verticalAlign: 'middle'}});
}
addText(2292, 79, mainTitle, 85);
addText(231, 331, currentTemp, 103, 'left');
addText(1287, 302, highLow[0], 49, 'left');
addText(1287, 368, highLow[1], 49, 'left');
infoLines.forEach(function (t, i) { addText(231, 457 + i * 83.75, t, 75, 'left'); });
addText(3818, 302, 'Precipitation', 62);
addText(2803, 251, '24-hr Wind Rose (kph)', 62);
addText(1195, 1229, 'Sea-level pressure', 62);
addText(1195, 1696, 'Wind Spd (line), Gusts (dots), and Barbs', 62);
addText(3395, 1227, 'Air (Red), Wet Bulb (Blk) and Dewpoint (Grn) Temps', 62);
addText(3395, 1698, 'Solar Irradiance', 62);
addText(318, 1234, '+1.02e3', 50, 'left');
addText(4095, 163, 'Data', 41);
addText(4095, 212, 'Access', 41);

var qrData = [];
qrRows.forEach(function (row, r) {
    for (var c = 0; c < row.length; c++) { if (row.charAt(c) === '1') { qrData.push([c, r]); } }
});

var series = [];
// precipitation
series.push({
    type: 'bar', xAxisIndex: 0, yAxisIndex: 0, barWidth: '80%',
    data: precipVals.map(function (v, i) { return [i, v]; }),
    itemStyle: {color: '#3b923b'},
    label: merge(lab(49), {show: true, position: 'top', distance: 6,
        formatter: function (p) { return p.value[1].toFixed(2); }}),
    z: 2
});
// pressure
series.push({type: 'line', xAxisIndex: 1, yAxisIndex: 2, data: pressure, showSymbol: false, symbol: 'none',
    lineStyle: {color: '#000', width: 5}, z: 2});
// gusts, wind, barbs
series.push({type: 'scatter', xAxisIndex: 2, yAxisIndex: 3, data: gusts, symbolSize: 18,
    itemStyle: {color: 'rgba(0,255,255,0.5)', borderColor: 'rgba(0,235,255,0.7)', borderWidth: 3}, z: 2});
series.push({type: 'line', xAxisIndex: 2, yAxisIndex: 3,
    data: evenly(windSpdA, 0.25, 179.8).concat(evenly(windSpdB, 180.5, 360)),
    showSymbol: false, symbol: 'none', lineStyle: {color: '#ff00ff', width: 5.5}, z: 3});
series.push({type: 'custom', xAxisIndex: 2, yAxisIndex: 3, renderItem: renderBarb, clip: false,
    data: barbTimes.map(function (t, i) { return [t, BARB_LEVEL, barbDirs[i], barbSpeeds[i]]; }),
    encode: {x: 0, y: 1}, z: 4, silent: true});
// temperatures
[[airTemp, '#ff0000'], [wetBulb, '#000000'], [dewPoint, '#008000']].forEach(function (s) {
    series.push({type: 'line', xAxisIndex: 3, yAxisIndex: 6, data: evenly(s[0], 0, 360), showSymbol: false,
        symbol: 'none', lineStyle: {color: s[1], width: 5}, z: 2});
});
// solar
series.push({type: 'line', xAxisIndex: 4, yAxisIndex: 10, data: solar, showSymbol: false, symbol: 'none',
    lineStyle: {color: '#daa520', width: 5}, z: 2});
// wind rose bars
roseBins.forEach(function (name, b) {
    series.push({
        type: 'bar', name: name, coordinateSystem: 'polar', polarIndex: 0, stack: 'rose',
        barCategoryGap: '20%',
        data: roseFreq[b].map(function (v) { return v > 0 ? v : null; }),
        itemStyle: {color: roseColors[b], borderColor: '#fff', borderWidth: 6},
        z: 2, silent: true
    });
});
// compass and ring labels
series.push({
    type: 'scatter', coordinateSystem: 'polar', polarIndex: 1, clip: false, silent: true, z: 6,
    symbolSize: 1, itemStyle: {color: 'rgba(0,0,0,0)'},
    data: compassAngles.map(function (a) { return [COMPASS_R, a]; }),
    label: merge(lab(46), {show: true, position: 'inside', align: 'center', verticalAlign: 'middle',
        formatter: function (p) { return compassNames[p.dataIndex]; }})
});
series.push({
    type: 'scatter', coordinateSystem: 'polar', polarIndex: 1, clip: false, silent: true, z: 6,
    symbolSize: 1, itemStyle: {color: 'rgba(0,0,0,0)'},
    data: roseRings.map(function (r) { return [r, RING_LABEL_ANGLE]; }),
    label: merge(lab(40), {show: true, position: 'inside', align: 'left', verticalAlign: 'bottom',
        formatter: function (p) { return roseRingLabels[p.dataIndex]; }})
});
// QR code
series.push({type: 'scatter', xAxisIndex: 5, yAxisIndex: 12, data: qrData, symbol: 'rect',
    symbolSize: 6.9, itemStyle: {color: '#3322ff'}, silent: true, z: 2});

var legendBase = {
    orient: 'vertical', top: 919, itemWidth: 102, itemHeight: 35, itemGap: 32, icon: 'rect',
    selectedMode: false,
    itemStyle: {borderColor: '#000', borderWidth: 4},
    textStyle: merge(lab(34), {padding: [0, 0, 0, 36]})
};

var F_MIN = 7.24 * 1.8 + 32, F_MAX = 12.88 * 1.8 + 32;
var MPH_MAX = 28.74 / 1.609;

var option = {
    animation: false,
    backgroundColor: '#fff',
    textStyle: {fontFamily: FONT},
    graphic: graphics,
    legend: [
        merge(merge({}, legendBase), {left: 2380, data: roseBins.slice(0, 4)}),
        merge(merge({}, legendBase), {left: 2852, data: roseBins.slice(4)})
    ],
    grid: [
        gridBox(3530, 339, 577, 680, 4),
        gridBox(316, 1267, 1758, 372),
        gridBox(316, 1731, 1758, 373),
        gridBox(2516, 1267, 1758, 372),
        gridBox(2516, 1732, 1758, 372),
        {left: 4185, top: 33, width: 270, height: 271, show: false}
    ],
    xAxis: [
        {type: 'value', gridIndex: 0, min: -0.5, max: 2.5, minInterval: 1, maxInterval: 1, z: 3,
         axisLine: {show: false},
         axisTick: {show: true, length: 14, customValues: [0, 1, 2], lineStyle: {color: '#000', width: 3.3}},
         axisLabel: merge(lab(50), {margin: 28, lineHeight: 51, customValues: [0, 1, 2],
             showMinLabel: true, showMaxLabel: true,
             formatter: function (v) { return precipCats[v]; }}),
         splitLine: {show: true, lineStyle: {color: GRIDC, width: 3.3}}},
        timeX(1, false),
        timeX(2, true),
        timeX(3, false),
        timeX(4, true),
        {type: 'value', gridIndex: 5, min: -0.5, max: 40.5, show: false}
    ],
    yAxis: [
        // 0-1 precipitation
        valY(0, 0, 9, precipTicksMm, plain, {name: 'Total (mm) or Rate (mm/hr)', gap: 83, z: 3}),
        valY(0, 0, 9 / 25.4, precipTicksIn, function (v) { return v.toFixed(2); },
             {position: 'right', split: false, name: 'Total (in) or Rate (in/hr)', gap: 167, z: 3}),
        // 2 pressure
        valY(1, 1019.459, 1020.518, pressureTicks, function (v) { return minus((v - 1020).toFixed(1)); },
             {name: 'hPa', gap: 173}),
        // 3-5 wind
        valY(2, 0, 28.74, kphTicks, plain, {name: 'kph', gap: 113}),
        valY(2, 0, MPH_MAX, mphTicks, plain,
             {position: 'right', split: false, name: 'mph', gap: 119, labels: everyOther(mphTicks, 0)}),
        valY(2, 0, MPH_MAX, mphTicks, plain,
             {position: 'right', split: false, ticks: false, labels: everyOther(mphTicks, 1)}),
        // 6-9 temperatures
        valY(3, 7.24, 12.88, tempTicksC, function (v) { return v.toFixed(1); },
             {name: '\u00B0C', gap: 172, labels: everyOther(tempTicksC, 0)}),
        valY(3, 7.24, 12.88, tempTicksC, function (v) { return v.toFixed(1); },
             {split: false, ticks: false, labels: everyOther(tempTicksC, 1)}),
        valY(3, F_MIN, F_MAX, tempTicksF, plain,
             {position: 'right', split: false, name: '\u00B0F', gap: 115, labels: everyOther(tempTicksF, 0)}),
        valY(3, F_MIN, F_MAX, tempTicksF, plain,
             {position: 'right', split: false, ticks: false, labels: everyOther(tempTicksF, 1)}),
        // 10-11 solar
        valY(4, 0, 450, solarTicks, plain, {name: 'W/m\u00B2', gap: 149, labels: everyOther(solarTicks, 0)}),
        valY(4, 0, 450, solarTicks, plain, {split: false, ticks: false, labels: everyOther(solarTicks, 1)}),
        // 12 QR code
        {type: 'value', gridIndex: 5, min: -0.5, max: 40.5, inverse: true, show: false}
    ],
    polar: [
        {center: [2803, 613], radius: 274},
        {center: [2803, 613], radius: 274}
    ],
    angleAxis: [
        {polarIndex: 0, type: 'category', data: roseDirs, startAngle: 101.25, clockwise: true,
         axisLine: {show: false}, axisTick: {show: false}, axisLabel: {show: false}, splitLine: {show: false}},
        {polarIndex: 1, type: 'value', min: 0, max: 360, interval: 45, startAngle: 90, clockwise: true, z: 3,
         axisLine: {show: true, lineStyle: {color: '#000', width: 4.5}}, axisTick: {show: false},
         axisLabel: {show: false}, splitLine: {show: true, lineStyle: {color: GRIDC, width: 4}}}
    ],
    radiusAxis: [
        {polarIndex: 0, type: 'value', min: 0, max: 25.6,
         axisLine: {show: false}, axisTick: {show: false}, axisLabel: {show: false}, splitLine: {show: false}},
        {polarIndex: 1, type: 'value', min: 0, max: 25.6, interval: 6.4, z: 3,
         axisLine: {show: false}, axisTick: {show: false}, axisLabel: {show: false},
         splitLine: {show: true, lineStyle: {color: GRIDC, width: 4}}}
    ],
    series: series
};
myChart.setOption(option);
</script>
</body>
</html>
